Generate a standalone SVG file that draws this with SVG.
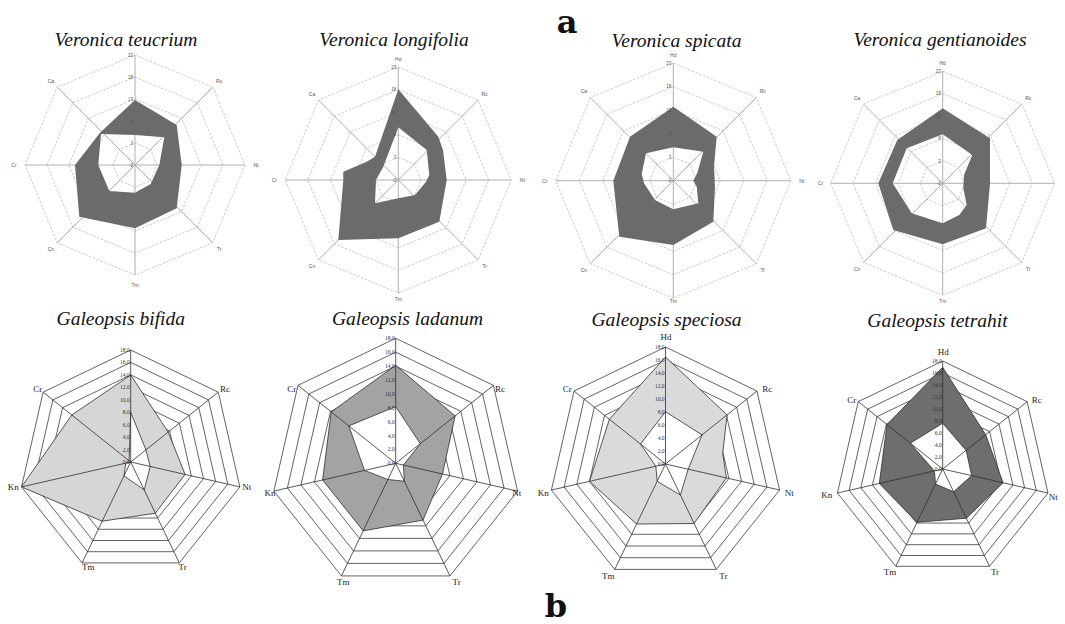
<svg xmlns="http://www.w3.org/2000/svg" xmlns:xlink="http://www.w3.org/1999/xlink" width="1065" height="624" viewBox="0 0 1065 624">
<style>
.vr{fill:none;stroke:#b3b3b3;stroke-width:0.7;stroke-dasharray:2.5 1.5}
.va{fill:none;stroke:#a6a6a6;stroke-width:0.9}
.vd{fill:#6b6b6b;fill-rule:evenodd;stroke:none}
.vt{font-family:"Liberation Sans",Arial,sans-serif;font-size:4.5px;fill:#555;text-anchor:end}
.vl{font-family:"Liberation Sans",Arial,sans-serif;font-size:5px;fill:#555;text-anchor:middle}
.gr{fill:none;stroke:#3c3c3c;stroke-width:0.8}
.ga{fill:none;stroke:#2e2e2e;stroke-width:0.8}
.go{stroke:#2e2e2e;stroke-width:0.8;stroke-linejoin:round}
.gi{fill:#fff;stroke:#2e2e2e;stroke-width:0.8;stroke-linejoin:round}
.gt{font-family:"Liberation Serif","Times New Roman",serif;font-size:5.5px;fill:#333;text-anchor:end}
.gl{font-family:"Liberation Serif","Times New Roman",serif;font-size:9px;fill:#222;text-anchor:middle}
.ti{font-family:"Liberation Serif","Times New Roman",serif;font-style:italic;font-size:19.5px;fill:#111;text-anchor:middle}
.pn{font-family:"DejaVu Serif",serif;font-weight:bold;font-size:32px;fill:#111;text-anchor:middle}
</style>
<defs>
<polygon id="oct" points="0,-1 0.7071,-0.7071 1,0 0.7071,0.7071 0,1 -0.7071,0.7071 -1,0 -0.7071,-0.7071" vector-effect="non-scaling-stroke"/>
<path id="octAx" d="M0,-1V1M-1,0H1M-0.7071,-0.7071L0.7071,0.7071M0.7071,-0.7071L-0.7071,0.7071" vector-effect="non-scaling-stroke"/>
<polygon id="hep" points="0,-1 0.7818,-0.6235 0.9749,0.2225 0.4339,0.901 -0.4339,0.901 -0.9749,0.2225 -0.7818,-0.6235" vector-effect="non-scaling-stroke"/>
<path id="hepAx" d="M0,0V-1M0,0L0.7818,-0.6235M0,0L0.9749,0.2225M0,0L0.4339,0.901M0,0L-0.4339,0.901M0,0L-0.9749,0.2225M0,0L-0.7818,-0.6235" vector-effect="non-scaling-stroke"/>
</defs>
<rect width="1065" height="624" fill="#fff"/>

<text class="pn" x="567" y="33">a</text>
<text class="pn" x="556" y="617">b</text>

<!-- Veronica teucrium -->
<g id="veronica-teucrium">
<text class="ti" x="126" y="46">Veronica teucrium</text>
<g transform="translate(135,165)">
<use href="#oct" class="vr" transform="scale(22)"/>
<use href="#oct" class="vr" transform="scale(44)"/>
<use href="#oct" class="vr" transform="scale(66)"/>
<use href="#oct" class="vr" transform="scale(88)"/>
<use href="#oct" class="vr" transform="scale(110)"/>
<use href="#octAx" class="va" transform="scale(110)"/>
</g>
<path class="vd" d="M135,100 L176.7,125 L181.7,165 L176.7,208.3 L135,228.3 L79.3,216.7 L75,165 L100,132.7 Z M135,135 L164.3,137.3 L159.3,165 L150.7,184 L135,192.7 L109.3,191 L98.3,165 L101,134 Z"/>
<g transform="translate(135,165)">
<text class="vt"><tspan x="-2" y="1.6">-2</tspan><tspan x="-2" y="-20.4">3</tspan><tspan x="-2" y="-42.4">8</tspan><tspan x="-2" y="-64.4">13</tspan><tspan x="-2" y="-86.4">18</tspan><tspan x="-2" y="-108.4">23</tspan></text>
<text class="vl"><tspan x="84.1" y="-82">Rc</tspan><tspan x="121" y="1.8">Nt</tspan><tspan x="84.1" y="86">Tr</tspan><tspan x="0" y="121.8">Tm</tspan><tspan x="-84.1" y="86">Cn</tspan><tspan x="-121" y="1.8">Cr</tspan><tspan x="-84.1" y="-82">Ca</tspan></text>
</g>
</g>

<!-- Veronica longifolia -->
<g id="veronica-longifolia">
<text class="ti" x="394" y="46">Veronica longifolia</text>
<g transform="translate(398.3,180)">
<use href="#oct" class="vr" transform="scale(22.6)"/>
<use href="#oct" class="vr" transform="scale(45.2)"/>
<use href="#oct" class="vr" transform="scale(67.8)"/>
<use href="#oct" class="vr" transform="scale(90.4)"/>
<use href="#oct" class="vr" transform="scale(113)"/>
<use href="#octAx" class="va" transform="scale(113)"/>
</g>
<path class="vd" d="M398.3,89.3 L438.3,136.7 L443,150 L446.7,180 L439.3,221.7 L398.3,238.3 L338.3,240 L343.3,180 L343.3,171.7 L366.7,161.7 L375,156.7 Z M398.3,127.3 L426.7,150 L429.3,175 L426,181.7 L415,195 L398.3,198.3 L375,203.3 L376,180 L383.3,166.7 Z"/>
<g transform="translate(398.3,180)">
<text class="vt"><tspan x="-2" y="1.6">-2</tspan><tspan x="-2" y="-21">3</tspan><tspan x="-2" y="-43.6">8</tspan><tspan x="-2" y="-66.2">13</tspan><tspan x="-2" y="-88.8">18</tspan><tspan x="-2" y="-111.4">23</tspan></text>
<text class="vl"><tspan x="0" y="-119">Hd</tspan><tspan x="86.3" y="-84.5">Rc</tspan><tspan x="124" y="1.8">Nt</tspan><tspan x="86.3" y="88.1">Tr</tspan><tspan x="0" y="121">Tm</tspan><tspan x="-86.3" y="88.1">Cn</tspan><tspan x="-124" y="1.8">Cr</tspan><tspan x="-86.3" y="-84.5">Ca</tspan></text>
</g>
</g>

<!-- Veronica spicata -->
<g id="veronica-spicata">
<text class="ti" x="676.5" y="47">Veronica spicata</text>
<g transform="translate(673.3,180.7)">
<use href="#oct" class="vr" transform="scale(23.5)"/>
<use href="#oct" class="vr" transform="scale(47)"/>
<use href="#oct" class="vr" transform="scale(70.5)"/>
<use href="#oct" class="vr" transform="scale(94)"/>
<use href="#oct" class="vr" transform="scale(117.5)"/>
<use href="#octAx" class="va" transform="scale(117.5)"/>
</g>
<path class="vd" d="M673.3,106.7 L716.7,136.7 L714,166.7 L715,186.7 L713.3,221.7 L673.3,245 L619.3,236.7 L613.3,180.7 L630,136.7 Z M673.3,147.3 L703.3,151.7 L697.3,172.7 L693.3,180.7 L696.7,186.7 L698.3,203.3 L673.3,209.3 L655,200 L644,183.3 L641.7,174 L646,153.3 Z"/>
<g transform="translate(673.3,180.7)">
<text class="vt"><tspan x="-2" y="1.6">-2</tspan><tspan x="-2" y="-21.9">3</tspan><tspan x="-2" y="-45.4">8</tspan><tspan x="-2" y="-68.9">13</tspan><tspan x="-2" y="-92.4">18</tspan><tspan x="-2" y="-115.9">23</tspan></text>
<text class="vl"><tspan x="0" y="-124">Hd</tspan><tspan x="89.4" y="-87.6">Rc</tspan><tspan x="128.5" y="1.8">Nt</tspan><tspan x="89.4" y="91.2">Tr</tspan><tspan x="0" y="122">Tm</tspan><tspan x="-89.4" y="91.2">Cn</tspan><tspan x="-128.5" y="1.8">Cr</tspan><tspan x="-89.4" y="-87.6">Ca</tspan></text>
</g>
</g>

<!-- Veronica gentianoides -->
<g id="veronica-gentianoides">
<text class="ti" x="940" y="46">Veronica gentianoides</text>
<g transform="translate(942.7,183.3)">
<use href="#oct" class="vr" transform="scale(22.4)"/>
<use href="#oct" class="vr" transform="scale(44.8)"/>
<use href="#oct" class="vr" transform="scale(67.2)"/>
<use href="#oct" class="vr" transform="scale(89.6)"/>
<use href="#oct" class="vr" transform="scale(112)"/>
<use href="#octAx" class="va" transform="scale(112)"/>
</g>
<path class="vd" d="M942.7,108.3 L990,138.3 L990,183.3 L986,228.3 L942.7,244.3 L893.3,230 L878.3,183.3 L897.3,140 Z M942.7,134.3 L972.3,155 L964,175 L963.3,188.3 L966.7,205 L959.3,215 L942.7,223.3 L911.7,213.3 L892.7,183.3 L906.7,148.3 Z"/>
<g transform="translate(942.7,183.3)">
<text class="vt"><tspan x="-2" y="1.6">-2</tspan><tspan x="-2" y="-20.8">3</tspan><tspan x="-2" y="-43.2">8</tspan><tspan x="-2" y="-65.6">13</tspan><tspan x="-2" y="-88">18</tspan><tspan x="-2" y="-110.4">23</tspan></text>
<text class="vl"><tspan x="0" y="-118">Hd</tspan><tspan x="85.6" y="-83.8">Rc</tspan><tspan x="85.6" y="87.4">Tr</tspan><tspan x="0" y="120">Tm</tspan><tspan x="-85.6" y="87.4">Cn</tspan><tspan x="-122" y="1.8">Cr</tspan><tspan x="-85.6" y="-83.8">Ca</tspan></text>
</g>
</g>

<!-- Galeopsis bifida -->
<g id="galeopsis-bifida">
<text class="ti" x="120.8" y="325">Galeopsis bifida</text>
<g transform="translate(130.7,462)">
<use href="#hep" class="gr" transform="scale(12.444)"/>
<use href="#hep" class="gr" transform="scale(24.889)"/>
<use href="#hep" class="gr" transform="scale(37.333)"/>
<use href="#hep" class="gr" transform="scale(49.778)"/>
<use href="#hep" class="gr" transform="scale(62.222)"/>
<use href="#hep" class="gr" transform="scale(74.667)"/>
<use href="#hep" class="gr" transform="scale(87.111)"/>
<use href="#hep" class="gr" transform="scale(99.556)"/>
<use href="#hep" class="gr" transform="scale(112)"/>
<polygon class="go" fill="#d6d6d6" points="0,-87 37.5,-29.9 54.4,12.4 24.6,51.2 -28.5,59.2 -109.2,24.9 -58.9,-47"/>
<polygon class="gi" points="0,-49.8 15.2,-12.2 19.5,4.5 13.5,27.9 -6.7,13.9 -4.9,1.1 -1.6,-1.2"/>
<use href="#hepAx" class="ga" transform="scale(112)"/>
<text class="gt"><tspan x="-1" y="2">0,0</tspan><tspan x="-1" y="-10.4">2,0</tspan><tspan x="-1" y="-22.9">4,0</tspan><tspan x="-1" y="-35.3">6,0</tspan><tspan x="-1" y="-47.8">8,0</tspan><tspan x="-1" y="-60.2">10,0</tspan><tspan x="-1" y="-72.7">12,0</tspan><tspan x="-1" y="-85.1">14,0</tspan><tspan x="-1" y="-97.6">16,0</tspan><tspan x="-1" y="-110">18,0</tspan></text>
<text class="gl"><tspan x="-93" y="-69.7">Cr</tspan><tspan x="94.3" y="-69.7">Rc</tspan><tspan x="116" y="27.7">Nt</tspan><tspan x="52" y="107.7">Tr</tspan><tspan x="-42.4" y="107.7">Tm</tspan><tspan x="-117.4" y="27.7">Kn</tspan></text>
</g>
</g>

<!-- Galeopsis ladanum -->
<g id="galeopsis-ladanum">
<text class="ti" x="407.5" y="325">Galeopsis ladanum</text>
<g transform="translate(395.7,463.3)">
<use href="#hep" class="gr" transform="scale(13.889)"/>
<use href="#hep" class="gr" transform="scale(27.778)"/>
<use href="#hep" class="gr" transform="scale(41.667)"/>
<use href="#hep" class="gr" transform="scale(55.556)"/>
<use href="#hep" class="gr" transform="scale(69.444)"/>
<use href="#hep" class="gr" transform="scale(83.333)"/>
<use href="#hep" class="gr" transform="scale(97.222)"/>
<use href="#hep" class="gr" transform="scale(111.111)"/>
<use href="#hep" class="gr" transform="scale(125)"/>
<polygon class="go" fill="#a3a3a3" points="0,-98 59.4,-47.4 46.8,10.7 27.3,56.8 -32.5,67.6 -73.1,16.7 -64.5,-51.4"/>
<polygon class="gi" points="0,-56.7 24.6,-19.6 7.7,1.8 8.7,18 -7.8,16.2 -31.2,7.1 -46.9,-37.4"/>
<use href="#hepAx" class="ga" transform="scale(125)"/>
<text class="gt"><tspan x="-1" y="2">0,0</tspan><tspan x="-1" y="-11.9">2,0</tspan><tspan x="-1" y="-25.8">4,0</tspan><tspan x="-1" y="-39.7">6,0</tspan><tspan x="-1" y="-53.6">8,0</tspan><tspan x="-1" y="-67.4">10,0</tspan><tspan x="-1" y="-81.3">12,0</tspan><tspan x="-1" y="-95.2">14,0</tspan><tspan x="-1" y="-109.1">16,0</tspan><tspan x="-1" y="-123">18,0</tspan></text>
<text class="gl"><tspan x="-104" y="-71">Cr</tspan><tspan x="104.3" y="-71">Rc</tspan><tspan x="121" y="32.4">Nt</tspan><tspan x="61" y="121.4">Tr</tspan><tspan x="-52.4" y="121.4">Tm</tspan><tspan x="-125.7" y="32.4">Kn</tspan></text>
</g>
</g>

<!-- Galeopsis speciosa -->
<g id="galeopsis-speciosa">
<text class="ti" x="666.5" y="326">Galeopsis speciosa</text>
<g transform="translate(665.5,464)">
<use href="#hep" class="gr" transform="scale(13)"/>
<use href="#hep" class="gr" transform="scale(26)"/>
<use href="#hep" class="gr" transform="scale(39)"/>
<use href="#hep" class="gr" transform="scale(52)"/>
<use href="#hep" class="gr" transform="scale(65)"/>
<use href="#hep" class="gr" transform="scale(78)"/>
<use href="#hep" class="gr" transform="scale(91)"/>
<use href="#hep" class="gr" transform="scale(104)"/>
<use href="#hep" class="gr" transform="scale(117)"/>
<polygon class="go" fill="#dadada" points="0,-107 61.6,-49.1 57.2,-10.7 60.9,13.9 28.6,59.5 -28.9,60 -76,17.4 -56.1,-44.8"/>
<polygon class="gi" points="0,-52.3 36.5,-29.1 22.7,5.2 14.9,31 -8.3,17.3 -9.7,2.2 -25,-20"/>
<use href="#hepAx" class="ga" transform="scale(117)"/>
<text class="gt"><tspan x="-1" y="2">0,0</tspan><tspan x="-1" y="-11">2,0</tspan><tspan x="-1" y="-24">4,0</tspan><tspan x="-1" y="-37">6,0</tspan><tspan x="-1" y="-50">8,0</tspan><tspan x="-1" y="-63">10,0</tspan><tspan x="-1" y="-76">12,0</tspan><tspan x="-1" y="-89">14,0</tspan><tspan x="-1" y="-102">16,0</tspan><tspan x="-1" y="-115">18,0</tspan></text>
<text class="gl"><tspan x="0.5" y="-123.7">Hd</tspan><tspan x="-98.2" y="-71.7">Cr</tspan><tspan x="101.8" y="-71.7">Rc</tspan><tspan x="123.8" y="31.7">Nt</tspan><tspan x="57.8" y="115">Tr</tspan><tspan x="-57.2" y="115">Tm</tspan><tspan x="-122.2" y="31.7">Kn</tspan></text>
</g>
</g>

<!-- Galeopsis tetrahit -->
<g id="galeopsis-tetrahit">
<text class="ti" x="937.5" y="326.5">Galeopsis tetrahit</text>
<g transform="translate(942.7,469)">
<use href="#hep" class="gr" transform="scale(12)"/>
<use href="#hep" class="gr" transform="scale(24)"/>
<use href="#hep" class="gr" transform="scale(36)"/>
<use href="#hep" class="gr" transform="scale(48)"/>
<use href="#hep" class="gr" transform="scale(60)"/>
<use href="#hep" class="gr" transform="scale(72)"/>
<use href="#hep" class="gr" transform="scale(84)"/>
<use href="#hep" class="gr" transform="scale(96)"/>
<use href="#hep" class="gr" transform="scale(108)"/>
<polygon class="go" fill="#6e6e6e" points="0,-101.7 43,-34.3 60.4,13.8 23.7,49.2 -25.7,53.3 -63.4,14.5 -55.7,-44.5"/>
<polygon class="gi" points="0,-45.7 23.4,-18.6 29,6.6 10.9,22.7 -7.2,15 -8.3,1.9 -32.4,-25.8"/>
<use href="#hepAx" class="ga" transform="scale(108)"/>
<text class="gt"><tspan x="-1" y="2">0,0</tspan><tspan x="-1" y="-10">2,0</tspan><tspan x="-1" y="-22">4,0</tspan><tspan x="-1" y="-34">6,0</tspan><tspan x="-1" y="-46">8,0</tspan><tspan x="-1" y="-58">10,0</tspan><tspan x="-1" y="-70">12,0</tspan><tspan x="-1" y="-82">14,0</tspan><tspan x="-1" y="-94">16,0</tspan><tspan x="-1" y="-106">18,0</tspan></text>
<text class="gl"><tspan x="0.6" y="-114.3">Hd</tspan><tspan x="-91" y="-66">Cr</tspan><tspan x="94" y="-66">Rc</tspan><tspan x="110.6" y="30.7">Nt</tspan><tspan x="52.3" y="105.7">Tr</tspan><tspan x="-52.7" y="105.7">Tm</tspan><tspan x="-116" y="29">Kn</tspan></text>
</g>
</g>
</svg>
